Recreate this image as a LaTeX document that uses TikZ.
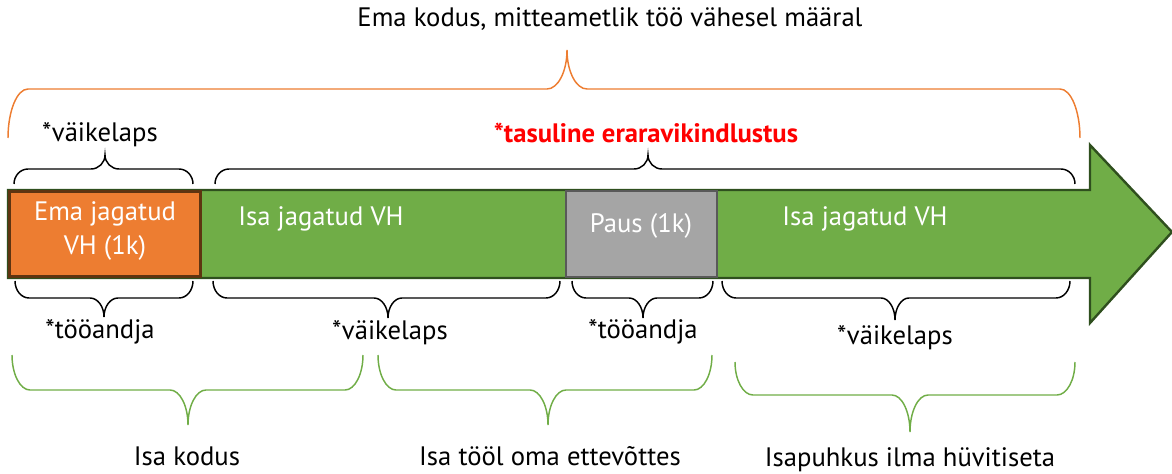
\documentclass[tikz,border=0pt]{standalone}
\usepackage{fontspec}
\setmainfont{PT Sans}
\definecolor{oran}{HTML}{ED7D31}
\definecolor{oranedge}{HTML}{5E3411}
\definecolor{grn}{HTML}{70AD47}
\definecolor{grnedge}{HTML}{2F4F1E}
\definecolor{gry}{HTML}{A5A5A5}
\definecolor{gryedge}{HTML}{595959}
% #1 style, #2 x1, #3 x2, #4 xm (cusp), #5 y of tips, #6 y of bar, #7 y of cusp, #8 radius
\newcommand\mybrace[8]{%
  \pgfmathsetmacro\bya{#5+0.55*(#6-#5)}%
  \pgfmathsetmacro\byb{#6+0.45*(#7-#6)}%
  \draw[#1] (#2,#5) .. controls (#2,\bya) and (#2+0.45*#8,#6) .. (#2+#8,#6)
    -- (#4-#8,#6) .. controls (#4-0.45*#8,#6) and (#4,\byb) .. (#4,#7)
    .. controls (#4,\byb) and (#4+0.45*#8,#6) .. (#4+#8,#6)
    -- (#3-#8,#6) .. controls (#3-0.45*#8,#6) and (#3,\bya) .. (#3,#5);%
}
\tikzset{
  lbl/.style={font=\fontsize{20}{24}\selectfont, text=black, inner sep=0pt},
  inlbl/.style={font=\fontsize{20}{25}\selectfont, text=white, inner sep=0pt, align=center},
  blackbrace/.style={draw=black, line width=1.1pt},
  greenbrace/.style={draw=grn, line width=1.1pt},
  orangebrace/.style={draw=oran, line width=1.1pt},
}
\begin{document}
\begin{tikzpicture}[x=0.75pt, y=-0.75pt]
\useasboundingbox (0,0) rectangle (1172,474);
% arrow
\draw[fill=grn, draw=grnedge, line width=1.8pt, line join=miter]
  (8,190) -- (1090,190) -- (1090,145) -- (1172,232) -- (1090,323) -- (1090,278) -- (8,278) -- cycle;
% boxes
\node[draw=oranedge, fill=oran, line width=2.2pt, minimum width=145.5pt-2.2pt, minimum height=66pt-2.2pt, inner sep=0pt] (ema) at (105,234) {};
\node[draw=gryedge, fill=gry, line width=1.8pt, minimum width=114.75pt-1.8pt, minimum height=66pt-1.8pt, inner sep=0pt] (paus) at (641.5,234) {};
\node[inlbl] (tema) at (105,231) {Ema jagatud\\VH (1k)};
\node[inlbl] (tisa1) at (321,219) {Isa jagatud VH};
\node[inlbl] (tpaus) at (641,226) {Paus (1k)};
\node[inlbl] (tisa2) at (865,219) {Isa jagatud VH};
% top texts
\node[lbl] (top) at (610,19) {Ema kodus, mitteametlik töö vähesel määral};
\node[lbl] (vl1) at (100,135) {*väikelaps};
\node[lbl, text=red, font=\fontsize{20}{24}\selectfont\bfseries] (era) at (646,133) {*tasuline eraravikindlustus};
% braces above
\mybrace{orangebrace}{8}{1080}{567}{138}{89}{50}{20}
\mybrace{blackbrace}{14}{193}{105}{184}{169}{155}{14}
\mybrace{blackbrace}{215}{1075}{648}{184}{169}{155}{14}
% braces below arrow
\mybrace{blackbrace}{15}{193}{104}{281}{298}{317}{14}
\mybrace{blackbrace}{213}{560}{388}{281}{298}{318}{14}
\mybrace{blackbrace}{572}{713}{643}{281}{298}{318}{14}
\mybrace{blackbrace}{722}{1070}{895}{281}{298}{320}{14}
\node[lbl] (ta1) at (100,332) {*tööandja};
\node[lbl] (vl2) at (390,333) {*väikelaps};
\node[lbl] (ta2) at (643,332) {*tööandja};
\node[lbl] (vl3) at (895,338) {*väikelaps};
% green braces
\mybrace{greenbrace}{12}{363}{188}{355}{390}{425}{18}
\mybrace{greenbrace}{378}{712}{548}{355}{390}{425}{18}
\mybrace{greenbrace}{735}{1075}{910}{362}{395}{432}{18}
\node[lbl] (ik) at (187,456) {Isa kodus};
\node[lbl] (it) at (550,456) {Isa tööl oma ettevõttes};
\node[lbl] (ip) at (910,460) {Isapuhkus ilma hüvitiseta};
\end{tikzpicture}
\end{document}
